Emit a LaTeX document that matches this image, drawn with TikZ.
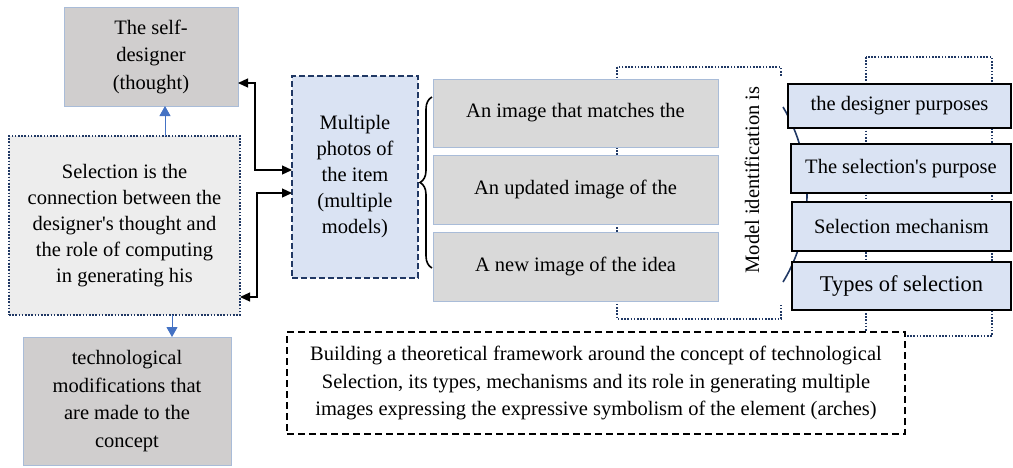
\documentclass[tikz,border=0pt]{standalone}
\usepackage{fontspec}
\setmainfont{Liberation Serif}
\usetikzlibrary{arrows.meta,decorations.pathreplacing,calc}
\definecolor{grayA}{HTML}{D0CECE}
\definecolor{grayB}{HTML}{D9D9D9}
\definecolor{grayC}{HTML}{EDEDED}
\definecolor{blueFill}{HTML}{DAE3F3}
\definecolor{navy}{HTML}{203864}
\definecolor{lightborder}{HTML}{A9BCD8}
\definecolor{arrowblue}{HTML}{4472C4}
\newcommand\mytxt{\fontsize{20.5}{27.5}\selectfont}
\newcommand\mytxtb{\fontsize{20.5}{26}\selectfont}
\newcommand\mybig{\fontsize{22.5}{27}\selectfont}
\newcommand\aps{\textquotesingle}
\tikzset{
  base/.style={align=center, font=\mytxt, inner sep=0pt, outer sep=0pt, anchor=center},
  grayboxA/.style={base, draw=lightborder, line width=0.7pt, fill=grayA},
  grayboxB/.style={base, draw=lightborder, line width=0.7pt, fill=grayB},
  dotbox/.style={draw=navy, line width=2pt, dash pattern=on 1.6pt off 1.6pt},
  selbox/.style={base, dotbox, fill=grayC, font=\mytxtb},
  mpbox/.style={base, draw=navy, line width=2pt, dash pattern=on 6pt off 3pt, fill=blueFill, font=\mytxtb},
  rbox/.style={base, draw=black, line width=2pt, fill=blueFill},
  fwbox/.style={base, draw=black, line width=2pt, dash pattern=on 7pt off 4pt, fill=white},
  bluearrow/.style={draw=arrowblue, line width=1pt, -{Triangle[width=11pt,length=10pt]}},
  blackarrow/.style={draw=black, line width=1.2pt, {Triangle[width=9pt,length=10pt]}-{Triangle[width=9pt,length=10pt]}},
}
\begin{document}
\begin{tikzpicture}[x=1pt,y=-1pt]
\useasboundingbox (0,0) rectangle (1013,467);
% background dotted frames
\draw[dotbox] (617,67) rectangle (781,319);
\draw[dotbox] (866,57) rectangle (992,336);
\fill[white] (736,76) rectangle (787,304);
% blue curve behind right boxes
\draw[navy, line width=1.6pt] (783,107) .. controls (815,160) and (815,230) .. (783,282);
% left column
\node[grayboxA, minimum width=174pt, minimum height=99pt] (self) at (151,56.5) {The self-\\designer\\(thought)};
\node[selbox, minimum width=231pt, minimum height=179pt] (sel) at (124.5,225.5) {Selection is the\\connection between the\\designer\aps s thought and\\the role of computing\\in generating his};
\node[grayboxA, minimum width=208pt, minimum height=128pt] (tech) at (127,401) {technological\\modifications that\\are made to the\\concept};
% middle
\node[mpbox, minimum width=126pt, minimum height=202pt] (mp) at (355,177) {Multiple\\photos of\\the item\\(multiple\\models)};
\node[grayboxB, minimum width=285pt, minimum height=68pt] (g1) at (575.5,113) {An image that matches the};
\node[grayboxB, minimum width=285pt, minimum height=69pt] (g2) at (575.5,189.5) {An updated image of the};
\node[grayboxB, minimum width=285pt, minimum height=69pt] (g3) at (575.5,266.5) {A new image of the idea};
\node[base, rotate=90] (mi) at (752,180) {Model identification is};
% right boxes
\node[rbox, minimum width=223pt, minimum height=44pt] (r1) at (899.5,106) {the designer purposes};
\node[rbox, minimum width=220pt, minimum height=49pt] (r2) at (901,168.5) {The selection\aps s purpose};
\node[rbox, minimum width=219pt, minimum height=49pt] (r3) at (901.5,226.5) {Selection mechanism};
\node[rbox, minimum width=219pt, minimum height=48pt, font=\mybig] (r4) at (901.5,286) {Types of selection};
% framework
\node[fwbox, minimum width=618pt, minimum height=102pt] (fw) at (596,383) {Building a theoretical framework around the concept of technological\\Selection, its types, mechanisms and its role in generating multiple\\images expressing the expressive symbolism of the element (arches)};
% connectors
\draw[bluearrow] ([xshift=40.5pt]sel.north) -- ([xshift=14pt]self.south);
\draw[bluearrow] ([xshift=47.5pt]sel.south) -- ([xshift=45pt]tech.north);
\draw[blackarrow] ([yshift=-26.5pt]self.east) -- ++(17,0) |- ([yshift=7pt]mp.west);
\draw[blackarrow] ([yshift=-16pt]mp.west) -- ++(-35,0) |- ([yshift=-71.5pt]sel.east);
\draw[line width=1.6pt, decorate, decoration={brace, amplitude=12pt}] (432,268) -- (432,97);
\end{tikzpicture}
\end{document}
